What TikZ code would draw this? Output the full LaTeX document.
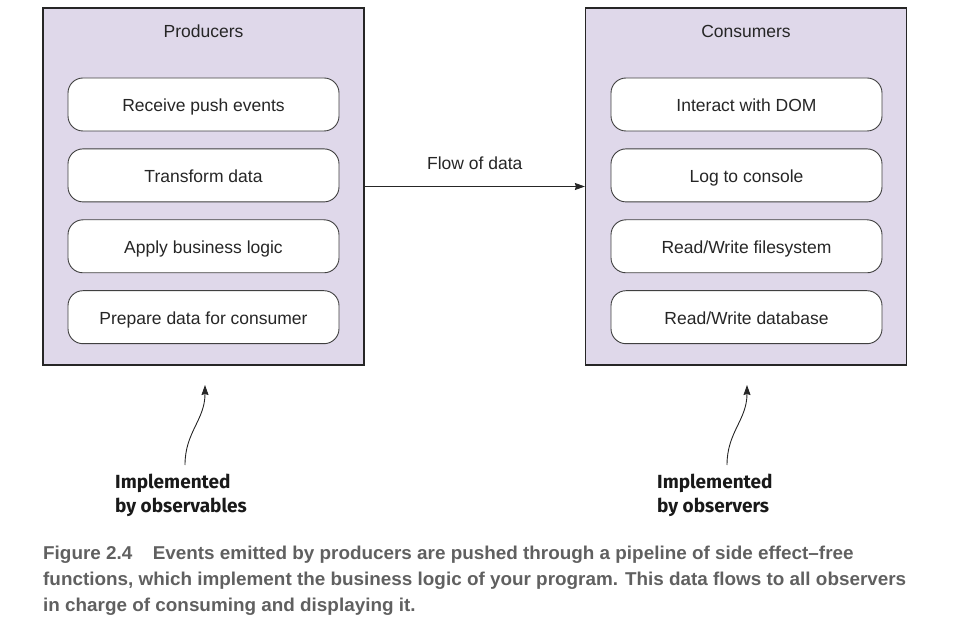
\documentclass[tikz,border=0pt]{standalone}
\usepackage{fontspec}
\setmainfont{Liberation Sans}
\newfontfamily\notefont{Fira Sans}
\newfontfamily\captionfont[FakeStretch=1.015]{Liberation Sans}
\usetikzlibrary{arrows.meta, positioning}
\definecolor{panelfill}{RGB}{223,216,234}
\definecolor{captiongray}{RGB}{96,96,96}

\begin{document}
\begin{tikzpicture}[x=1pt, y=-1pt,
    panel/.style={rectangle, draw=black!85, line width=1.2pt, fill=panelfill,
                  minimum width=321pt, minimum height=357pt},
    heading/.style={font=\fontsize{17.5}{21}\selectfont, text=black!85},
    task/.style={rectangle, rounded corners=15pt, minimum width=271pt, minimum height=53pt,
                 text height=14pt, text depth=0pt, text centered,
                 draw=black!75, line width=0.9pt, fill=white,
                 font=\fontsize{17.5}{21}\selectfont, text=black!85},
    note/.style={anchor=north west, inner sep=0pt, align=left,
                 font=\notefont\bfseries\fontsize{19}{24}\selectfont, text=black!90},
    caption/.style={anchor=north west, inner sep=0pt, align=left,
                    font=\captionfont\bfseries\fontsize{18.6}{26}\selectfont, text=captiongray},
    arrow/.style={-{Stealth[length=10pt, width=7pt, inset=1pt]}, line width=0.9pt, draw=black!85}]

    \useasboundingbox (0,0) rectangle (980,636);

    % Panels
    \node[panel] (producers) at (203.5,186.5) {};
    \node[panel] (consumers) at (746,186.5) {};
    \node[heading] (prodtitle) at (203.5,31) {Producers};
    \node[heading] (constitle) at (746,31) {Consumers};

    % Producer tasks
    \node[task] (receive) at (203.5,104.5) {Receive push events};
    \node[task, below=17pt of receive] (transform) {Transform data};
    \node[task, below=17pt of transform] (business) {Apply business logic};
    \node[task, below=17pt of business] (prepare) {Prepare data for consumer};

    % Consumer tasks
    \node[task] (dom) at (746.5,104.5) {Interact with DOM};
    \node[task, below=17pt of dom] (console) {Log to console};
    \node[task, below=17pt of console] (filesystem) {Read/Write filesystem};
    \node[task, below=17pt of filesystem] (database) {Read/Write database};

    % Notes
    \node[note] (obsnote) at (115,474) {Implemented\\by observables};
    \node[note] (obrnote) at (657,474) {Implemented\\by observers};
    \coordinate (obstail) at (185,465);
    \coordinate (obstip) at (205,385);
    \coordinate (obrtail) at (727,465);
    \coordinate (obrtip) at (747,385);

    % Arrows
    \draw[arrow] (producers) -- node[above=13pt, heading] {Flow of data} (consumers);
    \draw[arrow] (obstail) .. controls (185,432) and (205,420) .. (obstip);
    \draw[arrow] (obrtail) .. controls (727,432) and (747,420) .. (obrtip);

    % Caption
    \node[caption] (figcaption) at (43,545.5) {Figure 2.4\hspace{1.1em}Events emitted by producers are pushed through a pipeline of side effect–free\\
        functions, which implement the business logic of your program. This data flows to all observers\\
        in charge of consuming and displaying it.};

\end{tikzpicture}
\end{document}
